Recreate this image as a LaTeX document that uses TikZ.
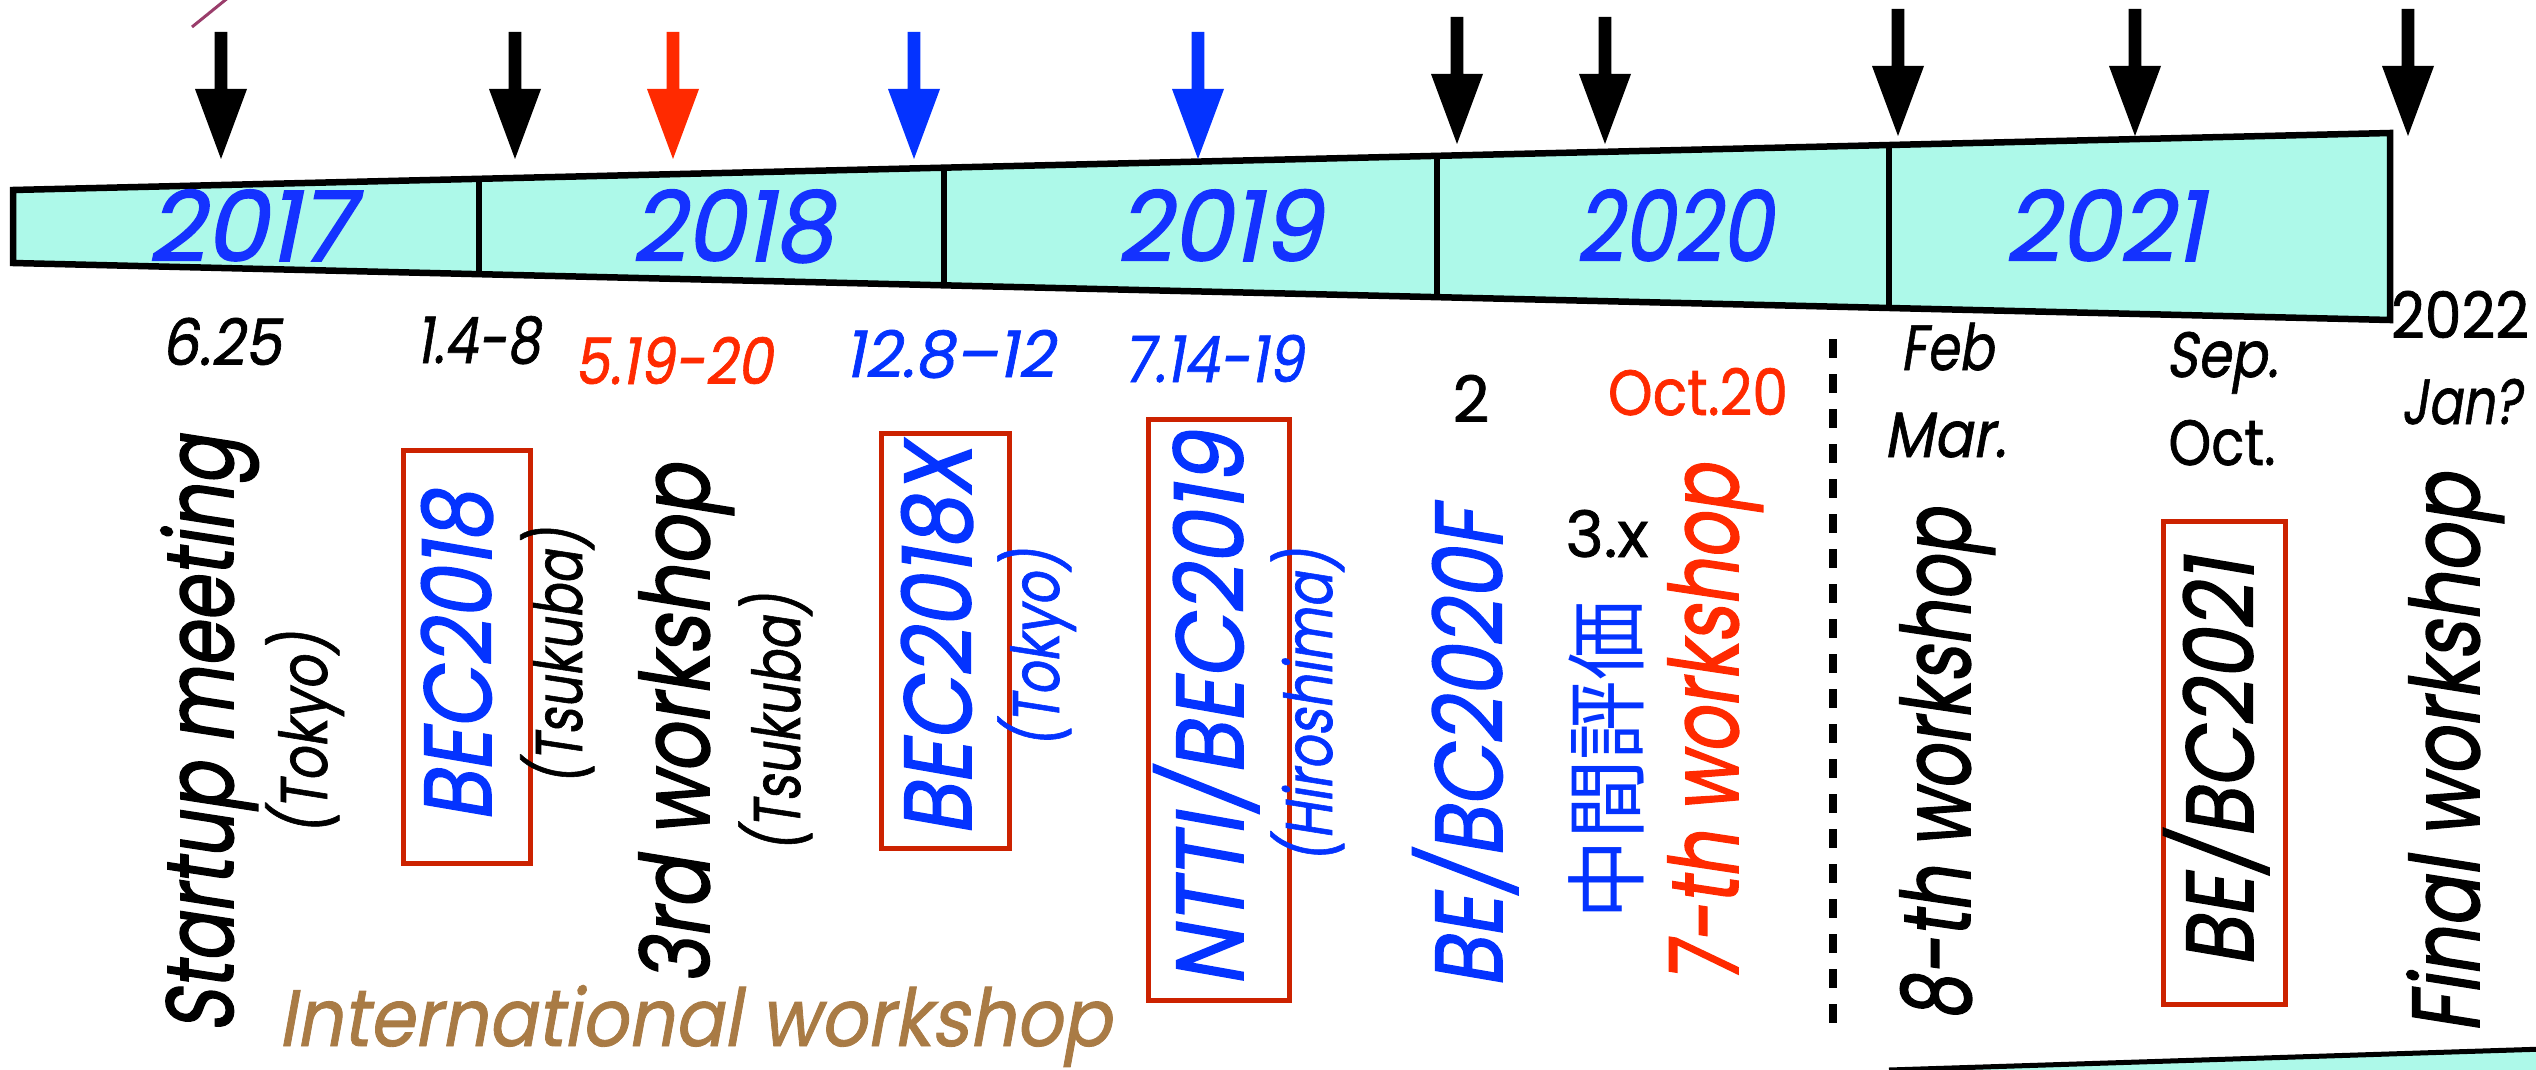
\documentclass[tikz,border=0pt]{standalone}
\usepackage{fontspec}
\setmainfont{Poppins}
% oblique geometric sans in two weights, plus an upright cut
\newfontfamily\fut{Poppins}[FakeSlant=0.2, FakeBold=1.1]
\newfontfamily\futmed{Poppins}[FakeSlant=0.2, FakeBold=1.7]
\newfontfamily\futup{Poppins}[FakeBold=1.1]
\newfontfamily\cjk{Noto Sans CJK JP}
\usetikzlibrary{calc}
\definecolor{barfill}{HTML}{ADF9E9}
\definecolor{yearblue}{HTML}{1432FF}
\definecolor{evblue}{HTML}{0433FF}
\definecolor{evred}{HTML}{FF2A00}
\definecolor{boxred}{HTML}{CC2200}
\definecolor{intlbrown}{HTML}{A97B45}
\definecolor{slashpurple}{HTML}{9A3D6B}
% set a label to a given run length, keeping its height
\newcommand\runlen[2]{\resizebox{#1pt}{\height}{#2}}
\tikzset{
  yearlbl/.style={font=\futmed\fontsize{97}{97}\selectfont, text=yearblue, anchor=base, inner sep=0pt},
  datelbl/.style={font=\fut\fontsize{64}{64}\selectfont, anchor=base, inner sep=0pt},
  dateup/.style={font=\futup\fontsize{64}{64}\selectfont, anchor=base, inner sep=0pt},
  biglbl/.style={font=\futmed\fontsize{95}{95}\selectfont, rotate=90, anchor=base, inner sep=0pt},
  placelbl/.style={font=\fut\fontsize{66}{66}\selectfont, rotate=90, anchor=base, inner sep=0pt},
  evbox/.style={draw=boxred, line width=5pt, rotate=90, anchor=center, inner sep=0pt,
    font=\futmed\fontsize{95}{95}\selectfont, text height=66pt},
  pics/milestone/.style={code={
    \fill (-6.3,0) -- (6.3,0) -- (6.3,57) -- (26,57) -- (0,127) -- (-26,57) -- (-6.3,57) -- cycle;}}
}
\begin{document}
\begin{tikzpicture}[x=1pt,y=-1pt]
\useasboundingbox (0,0) rectangle (2536,1070);
\clip (0,0) rectangle (2536,1070);

% stray stroke in the upper left corner
\draw[slashpurple, line width=3pt] (192,27) -- (229,-3);

% the tapering time bar
\coordinate (tl) at (13,190);
\coordinate (tr) at (2390,133);
\coordinate (br) at (2390,320);
\coordinate (bl) at (13,263);
\filldraw[fill=barfill, draw=black, line width=6.5pt, line join=miter]
  (tl) -- (tr) -- (br) -- (bl) -- cycle;
\foreach \t in {0.19605,0.39167,0.59907,0.78923}
  \draw[line width=6pt] ($(tl)!\t!(tr)$) -- ($(bl)!\t!(br)$);

% year labels
\node[yearlbl] (y2017) at (250,261) {\runlen{205}{2017}};
\node[yearlbl] (y2018) at (732,261) {\runlen{201}{2018}};
\node[yearlbl] (y2019) at (1219,261) {\runlen{204}{2019}};
\node[yearlbl] (y2020) at (1674,261) {\runlen{196}{2020}};
\node[yearlbl] (y2021) at (2104,261) {\runlen{199}{2021}};

% event markers
\pic[black]  at (221,32)  {milestone};
\pic[black]  at (515,32)  {milestone};
\pic[evred]  at (673,32)  {milestone};
\pic[evblue] at (914,32)  {milestone};
\pic[evblue] at (1198,32) {milestone};
\pic[black]  at (1457,17) {milestone};
\pic[black]  at (1605,17) {milestone};
\pic[black]  at (1898,9)  {milestone};
\pic[black]  at (2135,9)  {milestone};
\pic[black]  at (2408,9)  {milestone};

% dates
\node[datelbl] (d1) at (221,365) {\runlen{120}{6.25}};
\node[datelbl] (d2) at (478,363) {\runlen{124}{1.4-8}};
\node[datelbl, text=evred] (d3) at (673,384) {\runlen{198}{5.19-20}};
\node[datelbl, text=evblue] (d4) at (949,377) {\runlen{210}{12.8–12}};
\node[datelbl, text=evblue] (d5) at (1213,382) {\runlen{180}{7.14-19}};
\node[dateup] (d6) at (1471,422) {2};
\node[dateup, text=evred] (d7) at (1698,415) {\runlen{180}{Oct.20}};
\node[dateup] (d8) at (1607,557) {\runlen{83}{3.x}};
\node[datelbl] (d9) at (1947,370) {\runlen{93}{Feb}};
\node[datelbl] (d10) at (1945,457) {\runlen{122}{Mar.}};
\node[datelbl] (d11) at (2222,377) {\runlen{112}{Sep.}};
\node[dateup] (d12) at (2222,465) {\runlen{107}{Oct.}};
\node[dateup] (d13) at (2460,338) {\runlen{138}{2022}};
\node[datelbl] (d14) at (2461,424) {\runlen{120}{Jan?}};

% separator before the final year
\draw[line width=8pt, dash pattern=on 19pt off 16pt] (1833,339) -- (1833,1029);

% events
\node[biglbl] (startup) at (233,734.5) {\runlen{597}{Startup meeting}};
\node[placelbl] (tokyoA) at (327,733.5) {\runlen{203}{(Tokyo)}};
\node[evbox, text=evblue, minimum width=413pt, minimum height=127pt, text depth=18pt]
  (bec18) at (467,657) {\runlen{330}{BEC2018}};
\node[placelbl] (tsukubaA) at (582,656.5) {\runlen{257}{(Tsukuba)}};
\node[biglbl] (ws3) at (709,724.5) {\runlen{519}{3rd workshop}};
\node[placelbl] (tsukubaB) at (800,723) {\runlen{258}{(Tsukuba)}};
\node[font=\fut\fontsize{80}{80}\selectfont, text=intlbrown, anchor=base, inner sep=0pt]
  (intl) at (694.5,1046) {\runlen{833}{International workshop}};
\node[evbox, text=evblue, minimum width=415pt, minimum height=128pt, text depth=15pt]
  (bec18x) at (945.5,641) {\runlen{390}{BEC2018X}};
\node[placelbl, text=evblue] (tokyoB) at (1059,648.5) {\runlen{199}{(Tokyo)}};
\node[evbox, text=evblue, minimum width=581pt, minimum height=141pt, text depth=18pt]
  (ntti) at (1219,710) {\runlen{553}{NTTI/BEC2019}};
\node[placelbl, text=evblue] (hiroshima) at (1332,706) {\runlen{314}{(Hiroshima)}};
\node[biglbl, text=evblue] (bebc20) at (1502,748.5) {\runlen{479}{BE/BC2020F}};
\node[font=\cjk\fontsize{82}{82}\selectfont, text=evblue, rotate=90, inner sep=0pt]
  (midterm) at (1606,760) {\runlen{319}{中間評価}};
\node[biglbl, text=evred] (ws7) at (1738,724.5) {\runlen{519}{7-th workshop}};
\node[biglbl] (ws8) at (1970,765) {\runlen{512}{8-th workshop}};
\node[evbox, minimum width=483pt, minimum height=122pt, text depth=9pt]
  (bebc21) at (2224.5,763) {\runlen{408}{BE/BC2021}};
\node[biglbl] (wsfinal) at (2479,753.5) {\runlen{559}{Final workshop}};

% next bar peeking in at the bottom
\fill[barfill] (1889,1070) -- (2536,1049) -- (2536,1080) -- (1889,1080) -- cycle;
\draw[line width=5pt] (1889,1070) -- (2545,1049);
\end{tikzpicture}
\end{document}
